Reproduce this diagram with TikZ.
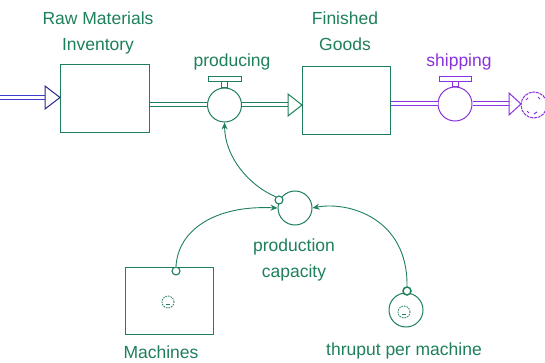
\documentclass[tikz,border=0pt]{standalone}
\usepackage{fontspec}
\setmainfont{Liberation Sans}
\usetikzlibrary{arrows.meta}
\definecolor{sdgreen}{RGB}{30,128,90}
\definecolor{sdpurple}{RGB}{138,50,220}
\definecolor{sdblue}{RGB}{60,60,205}
\definecolor{sdnavy}{RGB}{40,40,140}

\begin{document}
\begin{tikzpicture}[x=1pt,y=-1pt,
  lbl/.style={font=\fontsize{17.5}{26}\selectfont, text=sdgreen, align=center, inner sep=0},
  stock/.style={draw=sdgreen, line width=1pt, fill=white, inner sep=0,
    minimum width=#1, minimum height=68pt},
  valve/.style={circle, draw=#1, line width=1pt, fill=white, inner sep=0, minimum size=34pt},
  aux/.style={circle, draw=sdgreen, line width=1pt, fill=white, inner sep=0, minimum size=34pt},
  pipe/.style={draw=#1, double=white, double distance=3pt, line width=1pt},
  head/.style={draw=#1, line width=1pt, fill=white, line join=miter},
  link/.style={draw=sdgreen, line width=0.9pt, -{Stealth[length=7pt,width=6pt]}},
  tap/.style={circle, draw=sdgreen, line width=1.1pt, fill=white, inner sep=0, minimum size=8pt},
  gear/.style={circle, draw=sdgreen, line width=0.8pt, dash pattern=on 1.6pt off 1pt, inner sep=0, minimum size=12pt}
]
\useasboundingbox (0,0) rectangle (545,363);

% stocks
\node[stock=89pt] (raw) at (104.5,99) {};
\node[stock=88pt] (fg) at (346,100.5) {};
\node[stock=88pt, minimum height=67pt] (mach) at (169,300.5) {};

% flow valves
\node[valve=sdgreen] (prod) at (224.5,105) {};
\node[valve=sdpurple] (ship) at (455,104) {};

% converters
\node[aux] (pc) at (295,208) {};
\node[aux] (tpm) at (406,310) {};

% cloud sink at the right edge
\node[circle, draw=sdpurple, line width=1pt, dash pattern=on 3pt off 0.8pt, inner sep=0, minimum size=26pt] (sink) at (534,105) {};
\draw[sdpurple, line width=1pt] (526,100) -- (528,98) (527,111) -- (529,113) (534,114) -- (537,112) (538,97) -- (540,99);

% pipes
\coordinate (src) at (0,97.5);
\coordinate (inhead) at (45,97.5);
\draw[pipe=sdblue] (src) -- (inhead);
\draw[head=sdnavy] (45,86) -- (60,97.5) -- (45,109) -- cycle;

\draw[pipe=sdgreen] (raw.east |- prod.west) -- (prod.west);
\coordinate (fghead) at (288,105);
\draw[pipe=sdgreen] (prod.east) -- (fghead);
\draw[head=sdgreen] (288,94) -- (302,105) -- (288,116) -- cycle;

\draw[pipe=sdpurple] (fg.east |- ship.west) -- (ship.west);
\coordinate (sinkhead) at (509,104);
\draw[pipe=sdpurple] (ship.east) -- (sinkhead);
\draw[head=sdpurple] (509,93) -- (521,104) -- (509,115) -- cycle;

% valve handles
\draw[sdgreen, line width=1pt, fill=white] (208,77) rectangle (241,81.5);
\draw[sdgreen, line width=1pt, fill=white] (221.5,81.5) rectangle (227.5,88);
\draw[sdpurple, line width=1pt, fill=white] (439,77) rectangle (471,81.5);
\draw[sdpurple, line width=1pt, fill=white] (452,81.5) rectangle (458,87);

% gears
\node[gear] (mgear) at (168,302) {};
\draw[sdgreen, line width=0.8pt] (166,304) -- (170,304);
\node[gear] (tgear) at (404,312) {};
\draw[sdgreen, line width=0.8pt] (402,314) -- (406,314);

% connector taps
\node[tap] (pctap) at (279,200) {};
\node[tap] (mtap) at (176,271) {};
\node[tap, line width=1.5pt] (ttap) at (407,291) {};

% connectors
\draw[link] (pctap.north west) .. controls (250,186) and (225,158) .. (prod.south);
\draw[link] (mtap.north) .. controls (178,230) and (215,205) .. (pc.west);
\draw[link] (ttap.north) .. controls (408,218) and (348,201) .. (pc.east);

% labels
\node[lbl] (rawlbl) at (98,33) {Raw Materials\\Inventory};
\node[lbl] (fglbl) at (345,31) {Finished\\Goods};
\node[lbl, anchor=base] (prodlbl) at (232,67) {producing};
\node[lbl, anchor=base, text=sdpurple] (shiplbl) at (459,67) {shipping};
\node[lbl] (pclbl) at (294,260) {production\\capacity};
\node[lbl] (machlbl) at (161,352) {Machines};
\node[lbl] (tpmlbl) at (404,351) {thruput per machine};
\end{tikzpicture}
\end{document}
